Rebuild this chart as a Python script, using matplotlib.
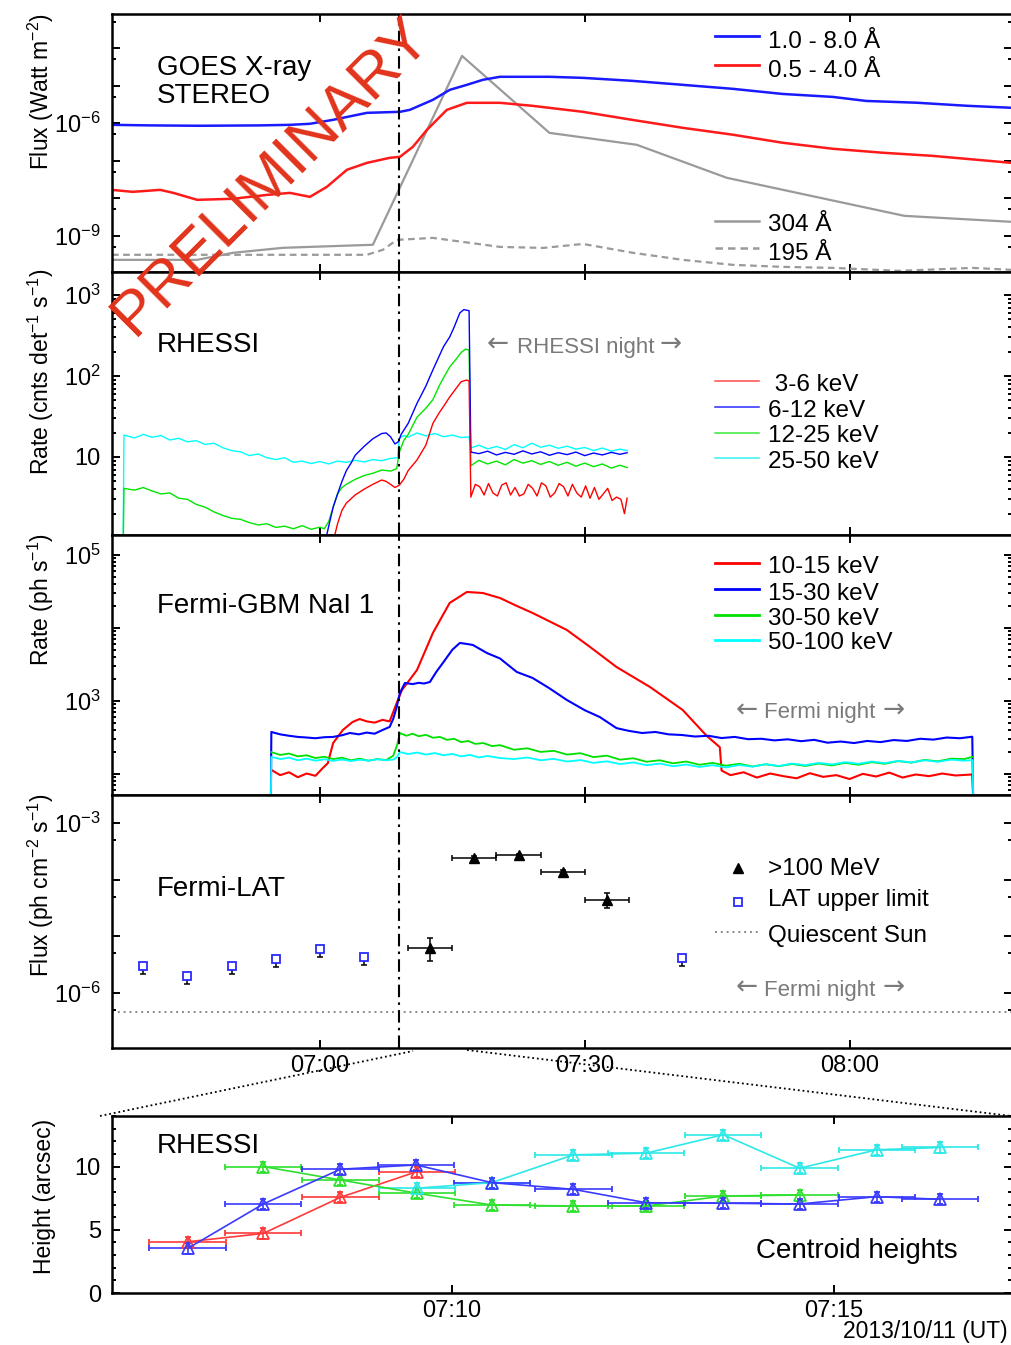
import matplotlib
matplotlib.use('Agg')
import matplotlib.pyplot as plt
from matplotlib.ticker import FixedLocator, FuncFormatter, NullFormatter
from matplotlib.lines import Line2D
import math

plt.rcParams['font.family'] = ['Liberation Sans', 'DejaVu Sans']
plt.rcParams['mathtext.fontset'] = 'custom'
plt.rcParams['mathtext.rm'] = 'Liberation Sans'
plt.rcParams['mathtext.it'] = 'Liberation Sans:italic'
plt.rcParams['mathtext.bf'] = 'Liberation Sans:bold'

# ---------------- data (time = minutes after 07:00 UT, 2013-10-11) ----------------
# GOES / STEREO
goes_long_t = [-23.55, -19.25, -13.6, -6.8, -3.4, -1.13, 1.47, 5.32, 9.06, 10.19, 12.8, 14.72, 16.65,
               18.46, 20.4, 26.0, 29.8, 35.4, 41.1, 46.8, 52.4, 58.1, 61.9, 67.6, 73.3, 78.4]
goes_long_v = [9.0e-7, 8.7e-7, 8.5e-7, 8.7e-7, 9.0e-7, 9.6e-7, 1.22e-6, 1.88e-6, 2.0e-6, 2.26e-6, 4.18e-6,
               7.73e-6, 1.05e-5, 1.43e-5, 1.72e-5, 1.72e-5, 1.61e-5, 1.34e-5, 1.05e-5, 8.2e-6, 6.0e-6,
               5.0e-6, 3.9e-6, 3.5e-6, 2.9e-6, 2.56e-6]
goes_short_t = [-23.55, -21.2, -18.1, -16.6, -13.9, -9.85, -5.99, -3.4, -1.13, 0.79, 3.06, 5.32, 7.93,
                9.06, 10.53, 12.12, 14.38, 16.65, 20.4, 24.1, 29.8, 35.4, 41.1, 46.8, 52.4, 58.1, 63.8,
                69.4, 78.4]
goes_short_v = [1.66e-8, 1.47e-8, 1.66e-8, 1.38e-8, 9.0e-9, 9.6e-9, 1.22e-8, 1.38e-8, 1.08e-8, 2.0e-8,
                5.7e-8, 8.7e-8, 1.19e-7, 1.26e-7, 2.33e-7, 6.6e-7, 2.26e-6, 3.48e-6, 3.48e-6, 2.89e-6,
                2.0e-6, 1.22e-6, 7.5e-7, 4.9e-7, 3.0e-7, 2.07e-7, 1.62e-7, 1.34e-7, 8.7e-8]
euv304_t = [-23.55, -13.9, -9.85, -4.19, 6.0, 16.1, 26.0, 35.9, 46.1, 66.2, 78.4]
euv304_v = [2.26e-10, 2.26e-10, 3.48e-10, 4.73e-10, 5.7e-10, 6.2e-5, 5.5e-7, 2.64e-7, 3.48e-8, 3.37e-9, 2.33e-9]
euv195_t = [-23.55, 5.32, 7.13, 8.72, 12.8, 20.4, 25.3, 29.8, 35.4, 41.1, 46.8, 52.4, 58.1, 65.7, 73.95, 78.4]
euv195_v = [3.08e-10, 3.08e-10, 4.18e-10, 7.7e-10, 8.7e-10, 5.0e-10, 4.7e-10, 6.0e-10, 3.5e-10, 2.26e-10,
            1.66e-10, 1.47e-10, 1.38e-10, 1.15e-10, 1.38e-10, 1.22e-10]

# RHESSI count rates
rh_cyan_t = [-22.3, -22.2, -21, -20, -19, -18, -17, -16, -15, -14, -13, -12, -11, -10, -9, -8, -7, -6, -5,
             -4, -3, -2, -1, 0, 1, 2, 3, 4, 5, 6, 7, 8, 8.8, 9.0, 9.5, 10, 11, 12, 13, 14, 15, 16, 16.9,
             17.1, 18, 19, 20, 21, 22, 23, 24, 25, 26, 27, 28, 29, 30, 31, 32, 33, 34, 34.8]
rh_cyan_v = [0.5, 18.7, 17.2, 19.0, 17.5, 18.4, 16.2, 17.0, 15.4, 15.9, 14.3, 14.8, 13.0, 12.0, 11.6, 10.4,
             10.9, 9.8, 9.3, 9.8, 8.6, 8.9, 8.3, 8.8, 8.2, 8.9, 8.6, 9.1, 8.7, 9.3, 9.0, 9.6, 9.8, 17.0,
             18.5, 17.6, 19.8, 18.2, 19.5, 17.8, 18.6, 17.4, 17.7, 12.9, 14.0, 12.6, 13.5, 12.4, 14.2,
             13.0, 14.8, 13.2, 14.0, 12.8, 13.6, 12.5, 13.1, 12.0, 12.9, 11.8, 12.5, 12.0]
rh_green_t = [-22.3, -22.2, -21, -20, -19, -18, -17, -16, -15, -14, -13, -12, -11, -10, -9, -8, -7, -6, -5,
              -4, -3, -2, -1, 0, 0.5, 1.0, 1.5, 2.0, 2.5, 3.0, 4.0, 5.0, 6.0, 7.0, 8.0, 8.7, 9.0, 9.5, 10,
              11, 12, 12.8, 13.5, 14, 14.7, 15.5, 16, 16.5, 16.9, 17.1, 18, 19, 20, 21, 22, 23, 24, 25,
              26, 27, 28, 29, 30, 31, 32, 33, 34, 34.8]
rh_green_v = [0.5, 4.1, 3.9, 4.2, 3.8, 3.5, 3.6, 3.1, 3.0, 2.6, 2.4, 2.1, 1.9, 1.75, 1.7, 1.55, 1.45, 1.5,
              1.35, 1.4, 1.3, 1.42, 1.28, 1.36, 1.3, 1.6, 2.4, 3.5, 4.2, 4.6, 5.3, 5.9, 6.3, 6.9, 6.7, 7.2,
              11.5, 16, 19, 31, 40, 51, 75, 95, 129, 165, 195, 215, 209, 7.8, 9.1, 8.2, 8.9, 8.0, 9.3,
              8.4, 9.0, 8.1, 8.8, 7.9, 8.6, 7.7, 8.4, 7.6, 8.2, 7.3, 7.9, 7.4]
rh_blue_t = [0.5, 1.0, 1.5, 2.0, 2.5, 3.0, 3.5, 4.0, 5.0, 6.0, 7.0, 7.5, 8.0, 8.5, 8.9, 9.2, 10, 11, 12,
             12.8, 13.5, 14, 14.7, 15.2, 15.85, 16.3, 16.9, 17.1, 18, 19, 20, 21, 22, 23, 24, 25, 26, 27,
             28, 29, 30, 31, 32, 33, 34, 34.8]
rh_blue_v = [0.8, 1.4, 2.4, 3.5, 5.0, 6.8, 8.3, 10.5, 13.5, 16.8, 19.5, 19.8, 17.8, 14.5, 15.5, 19.0, 26,
             46, 75, 119, 175, 230, 303, 400, 600, 660, 640, 11.5, 11.0, 11.8, 10.6, 11.4, 10.8, 11.9,
             10.9, 11.6, 10.5, 11.3, 10.7, 11.5, 10.4, 11.2, 10.6, 11.4, 10.8, 11.3]
rh_red_t = [1.5, 2.0, 2.5, 3.0, 4.0, 5.0, 6.0, 7.0, 7.5, 8.0, 8.5, 9.0, 9.5, 10, 11, 12, 12.8, 13.5, 14,
            14.7, 15.5, 16, 16.6, 16.9, 17.1, 17.6, 18.1, 18.6, 19.1, 19.6, 20.1, 20.6, 21.1, 21.6, 22.1,
            22.6, 23.1, 23.6, 24.1, 24.6, 25.1, 25.6, 26.1, 26.6, 27.1, 27.6, 28.1, 28.6, 29.1, 29.6,
            30.1, 30.6, 31.1, 31.6, 32.1, 32.6, 33.1, 33.6, 34.1, 34.5, 34.8]
rh_red_v = [0.9, 1.5, 2.2, 2.7, 3.4, 4.0, 4.6, 5.2, 5.0, 4.6, 4.2, 4.5, 5.3, 6.8, 9.2, 14, 26, 35, 42, 55,
            72, 85, 89, 87, 3.2, 4.6, 4.3, 3.4, 4.7, 3.6, 3.3, 4.5, 4.8, 3.4, 4.2, 3.3, 3.5, 4.6, 4.1,
            3.3, 4.8, 4.4, 3.2, 3.6, 4.7, 4.3, 3.3, 4.6, 3.6, 3.2, 4.4, 3.1, 4.2, 3.0, 3.5, 4.1, 2.9,
            3.2, 3.0, 2.0, 3.1]

# Fermi GBM NaI 1
gbm_blue_t = [-5.55, -5.5, -4.5, -3.5, -2.5, -1.5, -0.5, 0.5, 1.5, 2.5, 3.4, 4.4, 5.3, 6.2, 7.1, 7.9, 8.3,
              8.7, 9.06, 9.63, 10.5, 11.2, 11.8, 12.46, 13.2, 13.93, 15.0, 15.85, 16.5, 17.33, 18.91,
              20.4, 22.3, 24.1, 26.0, 27.97, 30.0, 31.7, 33.6, 35.0, 36.5, 38.0, 39.5, 41.0, 42.5, 44.0,
              45.5, 47.0, 48.5, 50.0, 51.5, 53.0, 54.5, 56.0, 57.5, 59.0, 60.5, 62.0, 63.5, 65.0, 66.5,
              68.0, 69.5, 71.0, 72.5, 73.9, 74.0]
gbm_blue_v = [45, 372, 345, 330, 318, 312, 305, 315, 318, 335, 360, 345, 365, 352, 396, 436, 560, 818, 1276,
              1750, 1690, 1760, 1720, 1806, 2500, 3296, 5000, 6200, 6050, 5820, 4520, 3800, 2480, 2050,
              1480, 1023, 740, 597, 420, 385, 360, 372, 345, 338, 322, 330, 307, 318, 296, 300, 285, 295,
              278, 290, 265, 275, 262, 280, 270, 288, 280, 300, 292, 312, 305, 320, 45]
gbm_red_t = [-5.5, -4.5, -3.5, -2.5, -1.5, -0.5, 0.3, 0.9, 1.5, 2.6, 3.7, 4.5, 5.3, 6.2, 7.1, 7.9, 8.7,
             9.3, 11.0, 12.8, 14.7, 16.65, 18.46, 20.4, 22.3, 24.1, 27.97, 30.6, 33.6, 37.4, 41.1, 43.8,
             45.3, 45.5, 46.5, 48.0, 49.5, 51.0, 52.5, 54.0, 55.5, 57.0, 58.5, 60.0, 61.5, 63.0, 64.5,
             66.0, 67.5, 69.0, 70.5, 72.0, 73.9, 74.0]
gbm_red_v = [112, 95, 104, 89, 100, 93, 118, 139, 262, 396, 510, 560, 520, 500, 545, 520, 929, 1402, 2640,
             8510, 22000, 31100, 30100, 25700, 20000, 16000, 9360, 5470, 2900, 1540, 745, 330, 230, 110,
             95, 104, 88, 100, 92, 86, 101, 90, 95, 84, 99, 91, 103, 88, 97, 92, 100, 94, 97, 45]
gbm_green_t = [-5.5, -4.5, -3.5, -2.5, -1.5, -0.5, 0.5, 1.5, 2.5, 3.5, 4.5, 5.5, 6.5, 7.5, 8.3, 8.72, 9.06,
               9.8, 10.5, 11.2, 12.0, 12.8, 13.6, 14.4, 15.2, 16.0, 16.8, 17.6, 18.5, 19.5, 20.4, 22.0,
               23.5, 25.0, 26.5, 28.0, 29.5, 31.0, 32.5, 34.0, 35.5, 37.0, 38.5, 40.0, 41.5, 43.0, 44.5,
               46.0, 47.5, 49.0, 50.5, 52.0, 53.5, 55.0, 56.5, 58.0, 59.5, 61.0, 62.5, 64.0, 65.5, 67.0,
               68.5, 70.0, 71.5, 73.0, 73.9]
gbm_green_v = [197, 180, 188, 172, 178, 163, 170, 158, 165, 152, 160, 150, 158, 153, 175, 240, 360, 330,
               352, 325, 340, 310, 318, 290, 300, 270, 280, 255, 262, 238, 245, 212, 222, 198, 205, 182,
               190, 168, 176, 155, 162, 145, 152, 138, 146, 132, 140, 128, 136, 125, 134, 126, 135, 127,
               137, 129, 140, 132, 143, 136, 148, 141, 154, 147, 160, 158, 169]
gbm_cyan_t = [-5.55, -5.5, -4.5, -3.5, -2.5, -1.5, -0.5, 0.5, 1.5, 2.5, 3.5, 4.5, 5.5, 6.5, 7.5, 8.3, 8.72,
              9.06, 10.0, 11.0, 12.0, 13.0, 14.0, 15.0, 16.0, 17.0, 18.0, 19.0, 20.4, 22.0, 23.5, 25.0,
              26.5, 28.0, 29.5, 31.0, 32.5, 34.0, 35.5, 37.0, 38.5, 40.0, 41.5, 43.0, 44.5, 46.0, 47.5,
              49.0, 50.5, 52.0, 53.5, 55.0, 56.5, 58.0, 59.5, 61.0, 62.5, 64.0, 65.5, 67.0, 68.5, 70.0,
              71.5, 73.0, 73.95, 74.0]
gbm_cyan_v = [45, 169, 158, 165, 152, 160, 150, 157, 149, 156, 148, 155, 150, 157, 152, 155, 168, 197, 185,
              194, 182, 191, 178, 186, 172, 180, 166, 174, 163, 158, 166, 152, 159, 146, 153, 140, 147,
              135, 142, 130, 137, 126, 133, 123, 130, 121, 131, 124, 134, 127, 137, 130, 140, 133, 143,
              136, 146, 139, 149, 142, 152, 145, 155, 150, 153, 45]

# Fermi LAT
lat_t = [12.5, 17.5, 22.5, 27.5, 32.5]
lat_v = [6.2e-6, 2.42e-4, 2.74e-4, 1.37e-4, 4.38e-5]
lat_err_lo = [2.56e-6, 1.5e-5, 1.5e-5, 1.0e-5, 1.23e-5]
lat_err_hi = [3.1e-6, 1.6e-5, 1.6e-5, 1.1e-5, 1.45e-5]
lat_dt = [2.5, 2.5, 2.5, 2.5, 2.5]
ul_t = [-20, -15, -10, -5, 0, 5, 41]
ul_v = [2.97e-6, 1.98e-6, 2.97e-6, 3.94e-6, 5.93e-6, 4.28e-6, 4.11e-6]
quiet_sun = 4.6e-7
flare_time = 9.0

# RHESSI centroid heights (arcsec)
hr_t = [6.54, 7.53, 8.54, 9.54]
hr_h = [4.05, 4.71, 7.57, 9.6]
hb_t = [6.54, 7.53, 8.54, 9.53, 10.52, 11.59, 12.54, 13.55, 14.55, 15.56, 16.39]
hb_h = [3.52, 7.04, 9.79, 10.13, 8.73, 8.2, 7.14, 7.1, 7.04, 7.62, 7.41]
hg_t = [7.53, 8.54, 9.54, 10.52, 11.59, 12.54, 13.55, 14.55]
hg_h = [10.0, 8.94, 7.89, 6.96, 6.88, 6.88, 7.67, 7.75]
hc_t = [9.54, 10.52, 11.59, 12.54, 13.55, 14.55, 15.56, 16.39]
hc_h = [8.29, 8.73, 10.93, 11.06, 12.52, 9.87, 11.33, 11.51]
h_dt = 0.5
h_err = 0.4

# ---------------- figure ----------------
W, H = 1011, 1345
fig = plt.figure(figsize=(W / 100, H / 100), dpi=100)


def axes_px(x0, x1, y0, y1):
    return fig.add_axes([x0 / W, 1 - y1 / H, (x1 - x0) / W, (y1 - y0) / H])


ax1 = axes_px(112, 1012, 14, 272)
ax2 = axes_px(112, 1012, 272, 535)
ax3 = axes_px(112, 1012, 535, 795)
ax4 = axes_px(112, 1012, 795, 1048)
ax5 = axes_px(112, 1012, 1116, 1293)

TICKFS = 17
LEGFS = 17.5
TITFS = 20
YLFS = 16.5
NIGHTFS = 16
GRAYTXT = '#7a7a7a'


def hhmm(m, pos=None):
    m = int(round(m))
    return f"{7 + m // 60:02d}:{m % 60:02d}"


def style(ax):
    for s in ax.spines.values():
        s.set_linewidth(1.8)
    ax.tick_params(which='both', direction='in', top=True, right=True, width=1.4,
                   labelsize=TICKFS, pad=8)
    ax.tick_params(which='major', length=6)
    ax.tick_params(which='minor', length=3.2)


def ylabel(ax, text, ypos):
    ax.set_ylabel(text, fontsize=YLFS)
    ax.yaxis.set_label_coords(-0.062, ypos)


def log_axis(ax, lo, hi, labelled, minor_subs):
    ax.set_yscale('log')
    ax.set_ylim(10 ** lo, 10 ** hi)
    decs = list(range(math.floor(lo), math.ceil(hi) + 1))
    ax.yaxis.set_major_locator(FixedLocator([10.0 ** d for d in decs]))
    mins = [s * 10.0 ** d for d in decs for s in minor_subs]
    ax.yaxis.set_minor_locator(FixedLocator(mins))
    ax.yaxis.set_minor_formatter(NullFormatter())

    def fmt(v, pos):
        e = int(round(math.log10(v)))
        if e not in labelled:
            return ''
        if e == 1:
            return '10'
        return r'$10^{%d}$' % e
    ax.yaxis.set_major_formatter(FuncFormatter(fmt))


def night_label(ax, x_left, x_mid, x_right, y, name):
    ax.text(x_mid, y, name, transform=ax.transAxes, fontsize=NIGHTFS, color=GRAYTXT,
            ha='center', va='baseline')
    for xa, s in ((x_left, '←'), (x_right, '→')):
        ax.text(xa, y + 0.004, s, transform=ax.transAxes, fontsize=19, color=GRAYTXT,
                ha='center', va='baseline', family='DejaVu Sans')


for ax in (ax1, ax2, ax3, ax4):
    ax.set_xlim(-23.55, 78.4)
    ax.xaxis.set_major_locator(FixedLocator([0, 30, 60]))
    ax.xaxis.set_major_formatter(FuncFormatter(hhmm))
    style(ax)
    ax.axvline(flare_time, color='black', lw=1.5, ls=(0, (6, 2.5, 1.2, 2.5)), zorder=5)
    if ax is not ax4:
        ax.tick_params(labelbottom=False)

# ---- panel 1: GOES / STEREO ----
log_axis(ax1, -9.97, -3.09, (-6, -9), [5])
ax1.plot(euv304_t, euv304_v, color='#9a9a9a', lw=1.6)
ax1.plot(euv195_t, euv195_v, color='#9a9a9a', lw=1.6, ls=(0, (3, 2)))
ax1.plot(goes_short_t, goes_short_v, color='#ff1a1a', lw=1.8)
ax1.plot(goes_long_t, goes_long_v, color='#1a1aff', lw=1.8)
ylabel(ax1, r'Flux (Watt m$^{-2}$)', 0.70)
ax1.text(0.0496, 0.764, 'GOES X-ray', transform=ax1.transAxes, fontsize=TITFS, va='baseline')
ax1.text(0.0496, 0.654, 'STEREO', transform=ax1.transAxes, fontsize=TITFS, va='baseline')


def key_line(ax, y, **kw):
    ax.add_line(Line2D([0.670, 0.719], [y, y], transform=ax.transAxes, clip_on=False, **kw))


def key_text(ax, y, s, x=0.729):
    ax.text(x, y, s, transform=ax.transAxes, fontsize=LEGFS, va='baseline', ha='left')


key_line(ax1, 0.915, color='#1a1aff', lw=2.0)
key_text(ax1, 0.868, '1.0 - 8.0 Å')
key_line(ax1, 0.802, color='#ff1a1a', lw=2.0)
key_text(ax1, 0.756, '0.5 - 4.0 Å')
key_line(ax1, 0.199, color='#9a9a9a', lw=1.8)
key_text(ax1, 0.159, '304 Å')
key_line(ax1, 0.092, color='#9a9a9a', lw=1.8, ls=(0, (3, 2)))
key_text(ax1, 0.047, '195 Å')

# ---- panel 2: RHESSI count rates ----
log_axis(ax2, 0.037, 3.284, (1, 2, 3), [2, 3, 4, 5, 6, 7, 8, 9])
for t, v, c in ((rh_cyan_t, rh_cyan_v, '#00ffff'), (rh_green_t, rh_green_v, '#00e600'),
                (rh_blue_t, rh_blue_v, '#0000ff'), (rh_red_t, rh_red_v, '#ff0000')):
    ax2.plot(t, v, color=c, lw=1.0)
ylabel(ax2, r'Rate (cnts det$^{-1}$ s$^{-1}$)', 0.62)
ax2.text(0.0496, 0.697, 'RHESSI', transform=ax2.transAxes, fontsize=TITFS, va='baseline')
night_label(ax2, 0.429, 0.526, 0.621, 0.693, 'RHESSI night')
for y_l, y_t, lab, c in ((0.587, 0.549, ' 3-6 keV', '#ff4a4a'), (0.488, 0.450, '6-12 keV', '#2a2aff'),
                         (0.389, 0.352, '12-25 keV', '#3ae83a'), (0.292, 0.254, '25-50 keV', '#3af0f0')):
    key_line(ax2, y_l, color=c, lw=1.1)
    key_text(ax2, y_t, lab)

# ---- panel 3: Fermi GBM ----
log_axis(ax3, 1.705, 5.275, (3, 5), [2, 3, 4, 5, 6, 7, 8, 9])
ax3.plot(gbm_red_t, gbm_red_v, color='#ff0000', lw=1.5)
ax3.plot(gbm_blue_t, gbm_blue_v, color='#0000ff', lw=1.5)
ax3.plot(gbm_green_t, gbm_green_v, color='#00e000', lw=1.3)
ax3.plot(gbm_cyan_t, gbm_cyan_v, color='#00ffff', lw=1.3)
ylabel(ax3, r'Rate (ph s$^{-1}$)', 0.75)
ax3.text(0.0496, 0.699, 'Fermi-GBM NaI 1', transform=ax3.transAxes, fontsize=TITFS, va='baseline')
night_label(ax3, 0.705, 0.786, 0.868, 0.295, 'Fermi night')
for y_l, y_t, lab, c in ((0.891, 0.855, '10-15 keV', '#ff0000'), (0.791, 0.750, '15-30 keV', '#0000ff'),
                         (0.692, 0.654, '30-50 keV', '#00e000'), (0.596, 0.560, '50-100 keV', '#00ffff')):
    key_line(ax3, y_l, color=c, lw=2.0)
    key_text(ax3, y_t, lab)

# ---- panel 4: Fermi LAT ----
log_axis(ax4, -6.98, -2.5, (-3, -6), [5])
ax4.axhline(quiet_sun, color='#8a8a8a', lw=1.4, ls=(0, (1, 2)))
ax4.errorbar(ul_t, ul_v, yerr=[[v * 0.29 for v in ul_v], [0] * len(ul_v)], fmt='none',
             ecolor='black', elinewidth=1.1, capsize=2.5, capthick=1.1)
ax4.plot(ul_t, ul_v, ls='none', marker='s', ms=6, mfc='white', mec='#2a2aff', mew=1.3)
ax4.errorbar(lat_t, lat_v, xerr=lat_dt, yerr=[lat_err_lo, lat_err_hi], fmt='^', color='black',
             ms=7.5, elinewidth=1.1, capsize=2.5, capthick=1.1)
ylabel(ax4, r'Flux (ph cm$^{-2}$ s$^{-1}$)', 0.644)
ax4.text(0.0496, 0.601, 'Fermi-LAT', transform=ax4.transAxes, fontsize=TITFS, va='baseline')
night_label(ax4, 0.705, 0.786, 0.868, 0.2055, 'Fermi night')
ax4.plot([0.695], [0.7103], transform=ax4.transAxes, marker='^', ms=7.5, color='black',
         clip_on=False, ls='none')
key_text(ax4, 0.684, '>100 MeV')
ax4.plot([0.695], [0.577], transform=ax4.transAxes, marker='s', ms=6, mfc='white', mec='#2a2aff',
         mew=1.3, clip_on=False, ls='none')
key_text(ax4, 0.5613, 'LAT upper limit')
key_line(ax4, 0.4577, color='#8a8a8a', lw=1.4, ls=(0, (1, 2)))
key_text(ax4, 0.420, 'Quiescent Sun')
ax4.tick_params(axis='x', pad=5)

# ---- panel 5: centroid heights ----
style(ax5)
ax5.set_xlim(5.55, 17.33)
ax5.set_ylim(0, 14)
ax5.xaxis.set_major_locator(FixedLocator([10, 15]))
ax5.xaxis.set_major_formatter(FuncFormatter(hhmm))
ax5.yaxis.set_major_locator(FixedLocator([0, 5, 10]))
ax5.yaxis.set_minor_locator(FixedLocator(list(range(0, 15))))
ax5.tick_params(axis='x', pad=5)
for t, h, c in ((hr_t, hr_h, '#ff3a3a'), (hg_t, hg_h, '#2ee02e'), (hc_t, hc_h, '#2ee8e8'),
                (hb_t, hb_h, '#3a3aff')):
    ax5.errorbar(t, h, xerr=h_dt, yerr=h_err, color=c, lw=1.2, elinewidth=1.2, capsize=2.5,
                 capthick=1.2, marker='^', ms=9, mfc='none', mec=c, mew=1.3)
ylabel(ax5, 'Height (arcsec)', 0.548)
ax5.text(0.0496, 0.789, 'RHESSI', transform=ax5.transAxes, fontsize=TITFS, va='baseline')
ax5.text(0.716, 0.196, 'Centroid heights', transform=ax5.transAxes, fontsize=TITFS, va='baseline')

fig.text(1008 / W, 1 - 1338.3 / H, '2013/10/11 (UT)', fontsize=16.5, va='baseline', ha='right')

# zoom connector lines
fig.add_artist(Line2D([100 / W, 413 / W], [1 - 1116 / H, 1 - 1051 / H], transform=fig.transFigure,
                      color='black', lw=1.3, ls=(0, (1, 1.6))))
fig.add_artist(Line2D([467 / W, 1011 / W], [1 - 1050 / H, 1 - 1116 / H], transform=fig.transFigure,
                      color='black', lw=1.3, ls=(0, (1, 1.6))))

# watermark
fig.text(271 / W, 1 - 176 / H, 'PRELIMINARY', rotation=45, fontsize=45, color='#e2331b',
         ha='center', va='center', zorder=100)

fig.savefig('out.png', dpi=100)
